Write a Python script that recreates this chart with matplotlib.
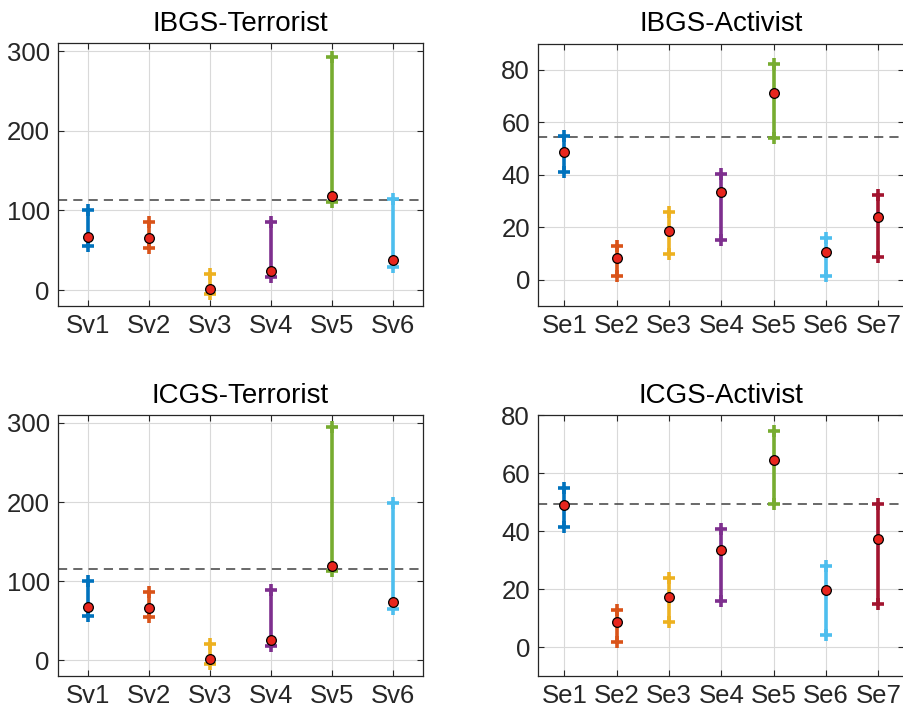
import matplotlib
matplotlib.use("Agg")
import matplotlib.pyplot as plt

plt.rcParams['font.family'] = ['Liberation Sans', 'DejaVu Sans']

# Category labels
sv_labels = ["Sv1", "Sv2", "Sv3", "Sv4", "Sv5", "Sv6"]
se_labels = ["Se1", "Se2", "Se3", "Se4", "Se5", "Se6", "Se7"]

# Interval bounds and point estimates per panel
ibgs_terr_low = [55, 53, -5, 16, 110, 29]
ibgs_terr_high = [100, 85, 20, 86, 293, 114]
ibgs_terr_mid = [66.5, 65, 1, 24, 118, 38]
ibgs_terr_ref = 113

ibgs_act_low = [41.2, 1.6, 9.8, 15.3, 54.2, 1.3, 8.8]
ibgs_act_high = [54.8, 12.7, 25.9, 40.2, 82.3, 15.9, 32.5]
ibgs_act_mid = [48.7, 8.3, 18.7, 33.3, 71.2, 10.4, 23.8]
ibgs_act_ref = 54.5

icgs_terr_low = [56, 54.5, -5, 18, 113, 65]
icgs_terr_high = [100.5, 86, 21, 89, 295, 199]
icgs_terr_mid = [67, 66, 2, 25, 119.5, 74]
icgs_terr_ref = 115

icgs_act_low = [41.5, 1.9, 8.8, 15.7, 49.2, 4.0, 14.9]
icgs_act_high = [55, 12.8, 23.8, 40.6, 74.6, 27.8, 49.2]
icgs_act_mid = [49, 8.6, 17.1, 33.6, 64.4, 19.5, 37.4]
icgs_act_ref = 49.3

colors = ["#0072BD", "#D95319", "#EDB120", "#7E2F8E", "#77AC30", "#4DBEEE", "#A2142F"]
axis_color = "#262626"

fig = plt.figure(figsize=(9.04, 7.14), dpi=100)

panels = [
    ([0.0642, 0.5714, 0.4038, 0.3683], "IBGS-Terrorist", sv_labels,
     ibgs_terr_low, ibgs_terr_high, ibgs_terr_mid, ibgs_terr_ref, (-20, 310), [0, 100, 200, 300]),
    ([0.5955, 0.5714, 0.4050, 0.3675], "IBGS-Activist", se_labels,
     ibgs_act_low, ibgs_act_high, ibgs_act_mid, ibgs_act_ref, (-10, 90), [0, 20, 40, 60, 80]),
    ([0.0642, 0.0532, 0.4038, 0.3655], "ICGS-Terrorist", sv_labels,
     icgs_terr_low, icgs_terr_high, icgs_terr_mid, icgs_terr_ref, (-20, 310), [0, 100, 200, 300]),
    ([0.5955, 0.0532, 0.4050, 0.3655], "ICGS-Activist", se_labels,
     icgs_act_low, icgs_act_high, icgs_act_mid, icgs_act_ref, (-10, 80), [0, 20, 40, 60, 80]),
]

for rect, title, labels, low, high, mid, ref, ylim, yticks in panels:
    ax = fig.add_axes(rect)
    n = len(labels)
    xs = list(range(1, n + 1))
    ax.grid(True, color="#d9d9d9", linewidth=0.8, zorder=0)
    ax.set_axisbelow(True)
    for i, x in enumerate(xs):
        ax.plot([x, x], [low[i], high[i]], color=colors[i], linewidth=2.6,
                marker="+", markersize=8, markeredgewidth=2.6, zorder=3,
                solid_capstyle="butt")
    ax.axhline(ref, color="#404040", linestyle=(0, (6, 4)), linewidth=1.1, zorder=2)
    ax.plot(xs, mid, linestyle="none", marker="o", markersize=7,
            markerfacecolor="#E8261E", markeredgecolor="black", markeredgewidth=0.9, zorder=4)
    ax.set_xlim(0.5, n + 0.5)
    ax.set_ylim(*ylim)
    ax.set_xticks(xs)
    ax.set_xticklabels(labels)
    ax.set_yticks(yticks)
    ax.tick_params(direction="in", top=True, right=True, length=4, width=0.8,
                   colors=axis_color, labelsize=18.5, pad=6)
    for sp in ax.spines.values():
        sp.set_color(axis_color)
        sp.set_linewidth(0.9)
    ax.set_title(title, fontsize=20, color="black", pad=9)

fig.savefig("out.png", dpi=100)
